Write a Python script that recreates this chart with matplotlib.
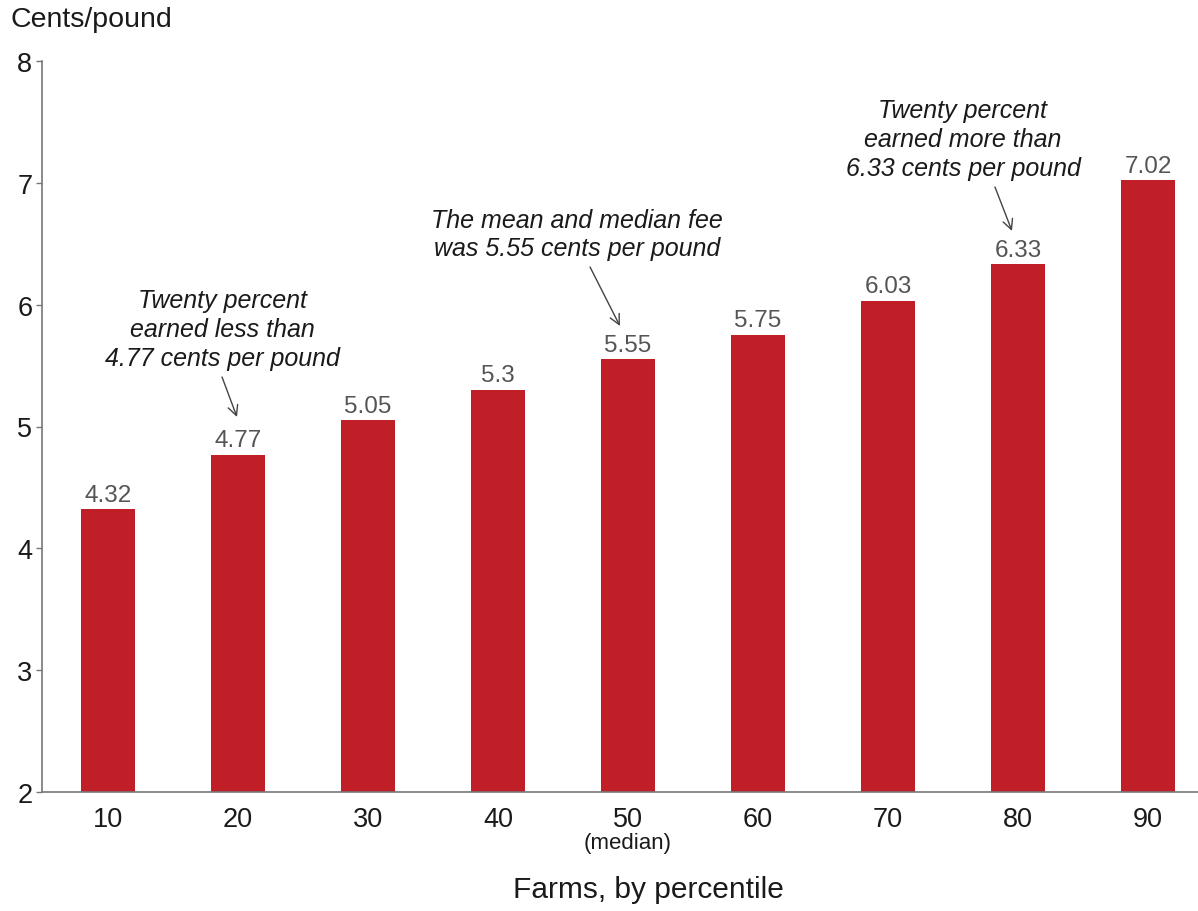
import matplotlib.pyplot as plt
import matplotlib.transforms as mtransforms

percentiles = ['10', '20', '30', '40', '50', '60', '70', '80', '90']
fees = [4.32, 4.77, 5.05, 5.3, 5.55, 5.75, 6.03, 6.33, 7.02]
fee_labels = ['4.32', '4.77', '5.05', '5.3', '5.55', '5.75', '6.03', '6.33', '7.02']
yticks = [2, 3, 4, 5, 6, 7, 8]

plt.rcParams['font.family'] = ['Liberation Sans', 'DejaVu Sans']

W, H = 1198, 912
fig = plt.figure(figsize=(W / 100, H / 100), dpi=100)
ax = fig.add_axes([42 / W, 119 / H, (W - 42) / W, 731 / H])

x = list(range(len(percentiles)))
bars = ax.bar(x, fees, width=0.41, color='#c01f27', zorder=2)

for xi, v, lab in zip(x, fees, fee_labels):
    ax.text(xi, v + 0.03, lab, ha='center', va='bottom', fontsize=17.5, color='#555555')

ax.set_xlim(-0.508, 8.385)
ax.set_ylim(2, 8)
ax.set_yticks(yticks)
ax.set_xticks(x)
ax.set_xticklabels(percentiles)

for side in ['top', 'right']:
    ax.spines[side].set_visible(False)
for side in ['left', 'bottom']:
    ax.spines[side].set_color('#777777')
    ax.spines[side].set_linewidth(1.2)

ax.tick_params(axis='y', length=4, width=1, color='#777777', labelsize=19.5, pad=3, labelcolor='#1a1a1a')
ax.tick_params(axis='x', length=0, labelsize=19.5, pad=10, labelcolor='#1a1a1a')

# "(median)" under the 50th percentile tick
trans = mtransforms.blended_transform_factory(ax.transData, fig.transFigure)
ax.text(4, 1 - 844 / H, '(median)', transform=trans, ha='center', va='center',
        fontsize=16, color='#1a1a1a')

# callouts
notes = [
    ('Twenty percent\nearned less than\n4.77 cents per pound', (0.877, 5.80), (0.877, 5.406), (0.992, 5.078)),
    ('The mean and median fee\nwas 5.55 cents per pound', (3.61, 6.58), (3.708, 6.309), (3.938, 5.825)),
    ('Twenty percent\nearned more than\n6.33 cents per pound', (6.577, 7.36), (6.823, 6.966), (6.954, 6.605)),
]
for txt, pos, tail, head in notes:
    ax.text(pos[0], pos[1], txt, ha='center', va='center', fontsize=18,
            style='italic', color='#1a1a1a', linespacing=1.25)
    ax.annotate('', xy=head, xytext=tail,
                arrowprops=dict(arrowstyle='->', color='#444444', lw=1.0,
                                mutation_scale=18, shrinkA=0, shrinkB=0))

fig.text(10 / W, 1 - 20 / H, 'Cents/pound', ha='left', va='center', fontsize=20.5, color='#1a1a1a')
fig.text(648 / W, 1 - 890 / H, 'Farms, by percentile', ha='center', va='center',
         fontsize=21.5, color='#1a1a1a')

fig.savefig('out.png', dpi=100)
